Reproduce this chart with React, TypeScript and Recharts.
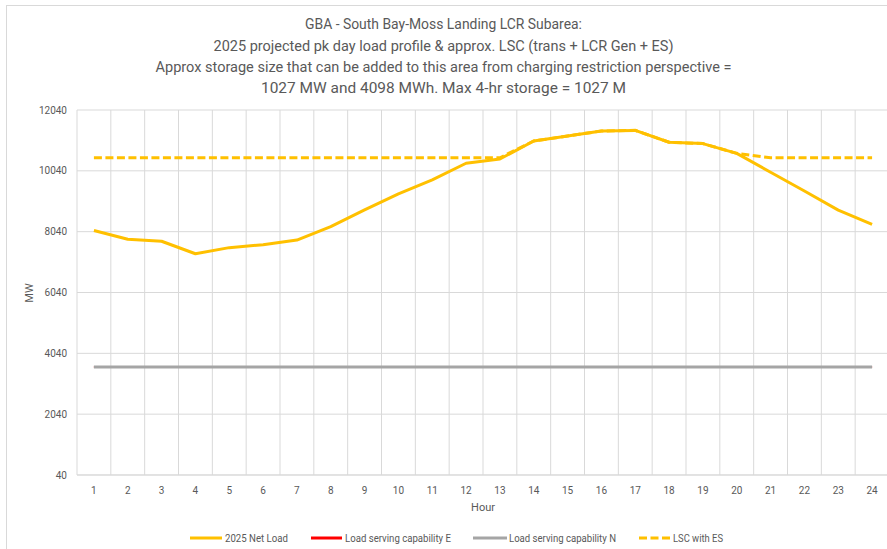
import React from 'react';
import { LineChart, Line, XAxis, YAxis, CartesianGrid } from 'recharts';

const hours = [1, 2, 3, 4, 5, 6, 7, 8, 9, 10, 11, 12, 13, 14, 15, 16, 17, 18, 19, 20, 21, 22, 23, 24];
const netLoad = [8080, 7790, 7725, 7315, 7515, 7610, 7765, 8205, 8755, 9280, 9740, 10290, 10430, 11020, 11185, 11350, 11370, 10980, 10935, 10615, 9995, 9375, 8750, 8280];
const lscE = [3590, 3590, 3590, 3590, 3590, 3590, 3590, 3590, 3590, 3590, 3590, 3590, 3590, 3590, 3590, 3590, 3590, 3590, 3590, 3590, 3590, 3590, 3590, 3590];
const lscN = [3590, 3590, 3590, 3590, 3590, 3590, 3590, 3590, 3590, 3590, 3590, 3590, 3590, 3590, 3590, 3590, 3590, 3590, 3590, 3590, 3590, 3590, 3590, 3590];
const lscES = [10470, 10470, 10470, 10470, 10470, 10470, 10470, 10470, 10470, 10470, 10470, 10470, 10470, 11020, 11185, 11350, 11370, 10980, 10935, 10615, 10470, 10470, 10470, 10470];
const yTicks = [40, 2040, 4040, 6040, 8040, 10040, 12040];

const titleLines = [
  'GBA - South Bay-Moss Landing LCR Subarea:',
  '2025 projected pk day load profile & approx. LSC (trans + LCR Gen + ES)',
  'Approx storage size that can be added to this area from charging restriction perspective =',
  '1027 MW and 4098 MWh. Max 4-hr storage = 1027 M',
];
const seriesNames = ['2025 Net Load', 'Load serving capability E', 'Load serving capability N', 'LSC with ES'];

const data = hours.map((h, i) => ({
  hour: h,
  netLoad: netLoad[i],
  lscE: lscE[i],
  lscN: lscN[i],
  lscES: lscES[i],
}));

const FONT = 'Roboto, "Open Sans", sans-serif';
const TXT = '#595959';
const GRID = '#d9d9d9';

const titleY = [29, 51, 72, 93];
const titleW = [277, 460, 576, 365];

const legendItems = [
  { name: seriesNames[0], color: '#FFC000', dash: undefined as string | undefined, x1: 190, x2: 222, tx: 225, tw: 63 },
  { name: seriesNames[1], color: '#FF0000', dash: undefined, x1: 311, x2: 342, tx: 345, tw: 106 },
  { name: seriesNames[2], color: '#A5A5A5', dash: undefined, x1: 473, x2: 507, tx: 509, tw: 107 },
  { name: seriesNames[3], color: '#FFC000', dash: '8 3.5', x1: 639, x2: 670, tx: 673, tw: 50 },
];

export default function App() {
  return (
    <div style={{ position: 'absolute', left: 0, top: 0, width: 887, height: 549, overflow: 'hidden', background: '#fff', fontFamily: FONT }}>
      <LineChart width={895} height={549} data={data} margin={{ top: 110, right: 6, bottom: 0, left: 17 }}>
        <CartesianGrid
          stroke={GRID}
          strokeWidth={1}
          verticalCoordinatesGenerator={(props: any) => {
            const off = props.offset;
            return hours.concat([0]).map((_, i) => off.left + (i * off.width) / hours.length);
          }}
        />
        <XAxis
          type="number"
          dataKey="hour"
          domain={[0.5, 24.5]}
          ticks={hours}
          interval={0}
          allowDataOverflow
          tickLine={false}
          axisLine={{ stroke: GRID }}
          height={74}
          tickMargin={6}
          tick={{ fill: TXT, fontSize: 10, fontFamily: FONT }}
          label={{ value: 'Hour', position: 'insideBottom', offset: 38, fill: TXT, fontSize: 11, fontFamily: FONT }}
        />
        <YAxis
          type="number"
          domain={[40, 12040]}
          ticks={yTicks}
          interval={0}
          allowDataOverflow
          tickLine={false}
          axisLine={false}
          width={60}
          tickMargin={4}
          tick={{ fill: TXT, fontSize: 10, fontFamily: FONT }}
        />
        <Line dataKey="lscE" name={seriesNames[1]} stroke="#FF0000" strokeWidth={2} dot={false} isAnimationActive={false} />
        <Line dataKey="lscN" name={seriesNames[2]} stroke="#A5A5A5" strokeWidth={3} dot={false} isAnimationActive={false} />
        <Line dataKey="netLoad" name={seriesNames[0]} stroke="#FFC000" strokeWidth={3} dot={false} isAnimationActive={false} strokeLinejoin="round" />
        <Line dataKey="lscES" name={seriesNames[3]} stroke="#FFC000" strokeWidth={3} strokeDasharray="8 3.5" dot={false} isAnimationActive={false} />
      </LineChart>
      <svg width={887} height={549} style={{ position: 'absolute', left: 0, top: 0, pointerEvents: 'none' }}>
        <rect x={6.5} y={5.5} width={900} height={600} fill="none" stroke={GRID} strokeWidth={1} />
        {titleLines.map((t, i) => (
          <text key={i} x={443.5} y={titleY[i]} textAnchor="middle" fill={TXT} fontSize={14} fontFamily={FONT} textLength={titleW[i]} lengthAdjust="spacingAndGlyphs">
            {t}
          </text>
        ))}
        <text x={0} y={0} transform="translate(33 293) rotate(-90)" textAnchor="middle" fill={TXT} fontSize={11} fontFamily={FONT}>
          MW
        </text>
        {legendItems.map((it, i) => (
          <g key={i}>
            <line x1={it.x1} x2={it.x2} y1={538} y2={538} stroke={it.color} strokeWidth={3} strokeDasharray={it.dash} />
            <text x={it.tx} y={541.5} fill={TXT} fontSize={10} fontFamily={FONT} textLength={it.tw} lengthAdjust="spacingAndGlyphs">
              {it.name}
            </text>
          </g>
        ))}
      </svg>
    </div>
  );
}
